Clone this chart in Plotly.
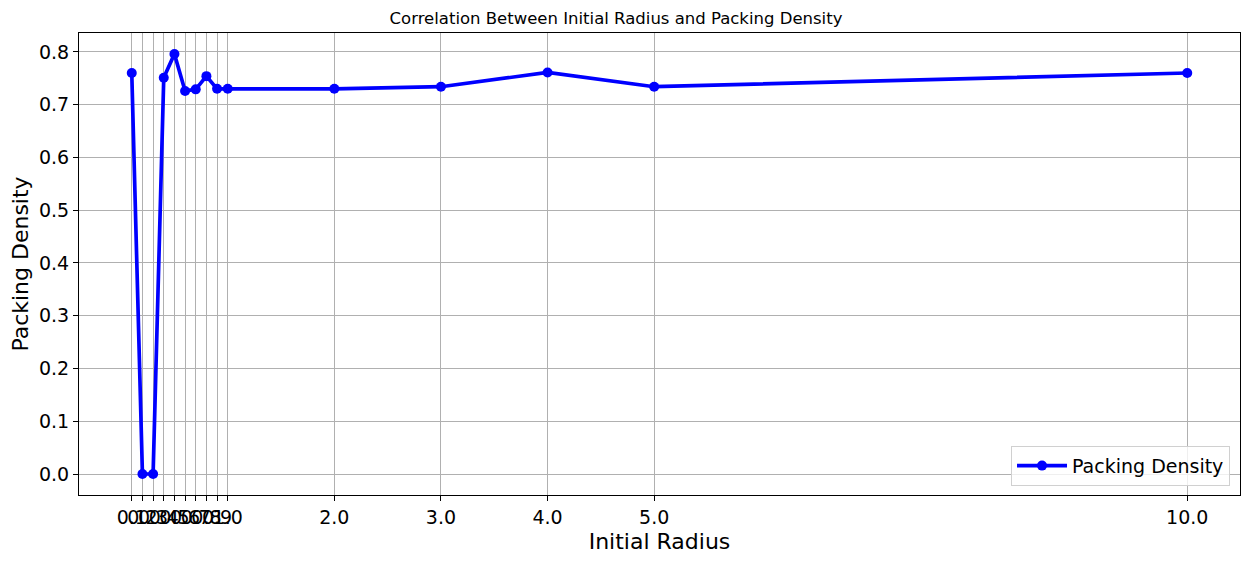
import plotly.graph_objects as go

# initial radius values and the resulting packing density
initial_radius = [0.1, 0.2, 0.3, 0.4, 0.5, 0.6, 0.7, 0.8, 0.9, 1.0, 2.0, 3.0, 4.0, 5.0, 10.0]
packing_density = [0.760, 0.0, 0.0, 0.751, 0.796, 0.726, 0.729, 0.754, 0.730, 0.730,
                   0.730, 0.734, 0.761, 0.734, 0.760]
tick_labels = [f'{r:.1f}' for r in initial_radius]

FONT = 'DejaVu Sans'

fig = go.Figure()
fig.add_trace(go.Scatter(
    x=initial_radius,
    y=packing_density,
    mode='lines+markers',
    name='Packing Density',
    line=dict(color='#0000ff', width=3.7),
    marker=dict(color='#0000ff', size=10),
))

axis_common = dict(
    showline=True, linecolor='black', linewidth=1.2, mirror=True,
    ticks='outside', ticklen=5, tickcolor='black', tickwidth=1,
    showgrid=True, gridcolor='#b0b0b0', gridwidth=1,
    zeroline=False, automargin=False,
    tickfont=dict(family=FONT, size=19, color='black'),
)

# the page body has an 8px margin, so the figure is a little smaller than the window
fig.update_layout(
    width=1234, height=546,
    paper_bgcolor='white', plot_bgcolor='white',
    margin=dict(l=71, r=2, t=25, b=59),
    font=dict(family=FONT, color='black'),
    title=dict(text='Correlation Between Initial Radius and Packing Density',
               x=0.4927, xanchor='center', y=0.982, yanchor='middle',
               font=dict(family=FONT, size=16.5, color='black')),
    xaxis=dict(
        range=[-0.395, 10.495],
        tickmode='array', tickvals=initial_radius, ticktext=tick_labels,
        tickangle=0,
        title=dict(text='Initial Radius', font=dict(family=FONT, size=22), standoff=6),
        **axis_common,
    ),
    yaxis=dict(
        range=[-0.0398, 0.8358],
        tickmode='array', tickvals=[0.0, 0.1, 0.2, 0.3, 0.4, 0.5, 0.6, 0.7, 0.8],
        tickformat='.1f',
        title=dict(text='Packing Density', font=dict(family=FONT, size=22), standoff=6),
        **axis_common,
    ),
    showlegend=True,
    legend=dict(
        x=0.9914, y=0.02, xanchor='right', yanchor='bottom',
        bgcolor='rgba(255,255,255,0.8)', bordercolor='#d0d0d0', borderwidth=1,
        font=dict(family=FONT, size=19, color='black'),
        itemwidth=50,
    ),
)

fig.write_html('out.html')
